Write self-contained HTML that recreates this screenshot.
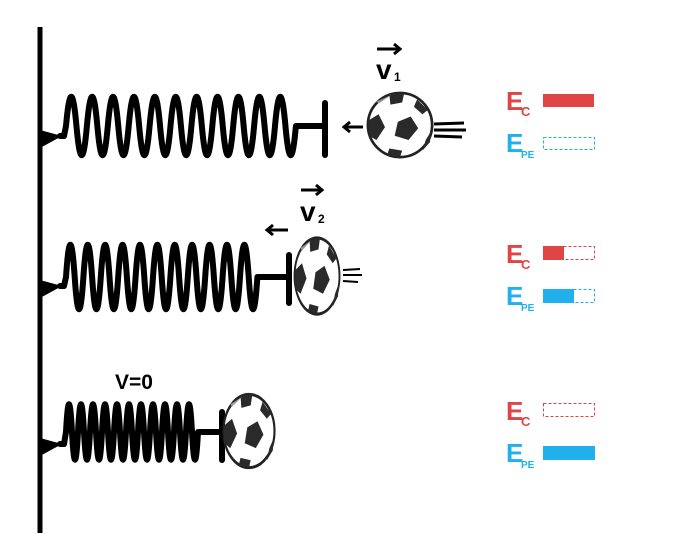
<!DOCTYPE html>
<html><head><meta charset="utf-8"><style>
body{margin:0;background:#fff}
svg{display:block}
.E{font-family:"Liberation Sans",sans-serif;font-weight:bold}
</style></head><body>
<svg width="680" height="555" viewBox="0 0 680 555">
<defs>
<g id="ball">
<circle cx="0" cy="0" r="30" fill="#fff" stroke="#222" stroke-width="2.5"/>
<polygon points="-2,-3 10,-8 17,3 8,14 -5,10" fill="#2a2a2a"/>
<path d="M-30,-4 L-20,-10 -14,2 -22,14 -29,10 Z" fill="#2a2a2a"/>
<path d="M-10,-29 L4,-30 2,-21 -9,-19 Z" fill="#2a2a2a"/>
<path d="M16,-24 L26,-14 21,-10 13,-17 Z" fill="#2a2a2a"/>
<path d="M-10,22 L2,24 0,30 -12,28 Z" fill="#2a2a2a"/>
<path d="M24,14 L29,6 28,16 21,24 Z" fill="#2a2a2a"/>
<path d="M-20,-20 L-8,-28 -22,-22 Z" fill="#999"/>
</g>
</defs>
<line x1="40" y1="27" x2="40" y2="533" stroke="#000" stroke-width="5"/>
<polygon points="40,130 62,136 40,148" fill="#000"/>
<polygon points="40,280 62,286 40,298" fill="#000"/>
<polygon points="40,438 62,444 40,456" fill="#000"/>

<g fill="none" stroke="#000" stroke-width="6" stroke-linecap="round" stroke-linejoin="round">
<path d="M60,136 L64,136 L66,126 c3.5,-39 7,-39 10.45,0 c3.5,39 7,39 10.45,0 c3.5,-39 7,-39 10.45,0 c3.5,39 7,39 10.45,0 c3.5,-39 7,-39 10.45,0 c3.5,39 7,39 10.45,0 c3.5,-39 7,-39 10.45,0 c3.5,39 7,39 10.45,0 c3.5,-39 7,-39 10.45,0 c3.5,39 7,39 10.45,0 c3.5,-39 7,-39 10.45,0 c3.5,39 7,39 10.45,0 c3.5,-39 7,-39 10.45,0 c3.5,39 7,39 10.45,0 c3.5,-39 7,-39 10.45,0 c3.5,39 7,39 10.45,0 c3.5,-39 7,-39 10.45,0 c3.5,39 7,39 10.45,0 c3.5,-39 7,-39 10.45,0 c3.5,39 7,39 10.45,0 c3.5,-39 7,-39 10.45,0 c3.5,39 7,39 10.45,0 L298,126 L325,126"/>
<line x1="325" y1="103" x2="325" y2="155"/>
<path d="M60,286 L64,286 L66,277 c2.9,-43 5.8,-43 8.7,0 c2.9,43 5.8,43 8.7,0 c2.9,-43 5.8,-43 8.7,0 c2.9,43 5.8,43 8.7,0 c2.9,-43 5.8,-43 8.7,0 c2.9,43 5.8,43 8.7,0 c2.9,-43 5.8,-43 8.7,0 c2.9,43 5.8,43 8.7,0 c2.9,-43 5.8,-43 8.7,0 c2.9,43 5.8,43 8.7,0 c2.9,-43 5.8,-43 8.7,0 c2.9,43 5.8,43 8.7,0 c2.9,-43 5.8,-43 8.7,0 c2.9,43 5.8,43 8.7,0 c2.9,-43 5.8,-43 8.7,0 c2.9,43 5.8,43 8.7,0 c2.9,-43 5.8,-43 8.7,0 c2.9,43 5.8,43 8.7,0 c2.9,-43 5.8,-43 8.7,0 c2.9,43 5.8,43 8.7,0 c2.9,-43 5.8,-43 8.7,0 c2.9,43 5.8,43 8.7,0 L262,277 L289,277"/>
<line x1="289" y1="255" x2="289" y2="303"/>
<path d="M60,444 L64,444 L66,432 c2,-37 4,-37 6,0 c2,37 4,37 6,0 c2,-37 4,-37 6,0 c2,37 4,37 6,0 c2,-37 4,-37 6,0 c2,37 4,37 6,0 c2,-37 4,-37 6,0 c2,37 4,37 6,0 c2,-37 4,-37 6,0 c2,37 4,37 6,0 c2,-37 4,-37 6,0 c2,37 4,37 6,0 c2,-37 4,-37 6,0 c2,37 4,37 6,0 c2,-37 4,-37 6,0 c2,37 4,37 6,0 c2,-37 4,-37 6,0 c2,37 4,37 6,0 c2,-37 4,-37 6,0 c2,37 4,37 6,0 c2,-37 4,-37 6,0 c2,37 4,37 6,0 L202,432 L222,432"/>
<line x1="222" y1="412" x2="222" y2="460"/>
</g>
<g stroke="#000" stroke-width="3" fill="none">
<line x1="345" y1="127" x2="363" y2="127"/><path d="M350,122 L344,127 350,132"/>
<line x1="268" y1="230" x2="288" y2="230"/><path d="M273,225 L267,230 273,235"/>
<line x1="377" y1="49" x2="399" y2="49"/><path d="M394,44 L400,49 394,54"/>
<line x1="301" y1="190" x2="321" y2="190"/><path d="M316,185 L322,190 316,195"/>
<line x1="434" y1="124" x2="464" y2="123"/><line x1="434" y1="130" x2="466" y2="130"/><line x1="434" y1="136" x2="462" y2="137"/>
<g stroke-width="2"><line x1="343" y1="270" x2="360" y2="269"/><line x1="343" y1="275" x2="362" y2="275"/><line x1="343" y1="281" x2="358" y2="282"/></g>
</g>
<use href="#ball" transform="translate(400,125) scale(1.07)"/>
<use href="#ball" transform="translate(317,276) scale(0.75,1.27)"/>
<use href="#ball" transform="translate(249,431) scale(0.85,1.22)"/>
<g class="E" fill="#000">
<text x="376" y="79" font-size="28">v</text><text x="394" y="81" font-size="12">1</text>
<text x="300" y="221" font-size="28">v</text><text x="318" y="223" font-size="12">2</text>
<text x="115" y="389" font-size="21">V=0</text>
</g>
<g class="E">
<text x="506" y="110" font-size="26" fill="#e04545">E</text><text x="521" y="116" font-size="13" fill="#e04545">C</text>
<rect x="543" y="94" width="51" height="13" fill="#e04545"/>
<text x="506" y="152" font-size="26" fill="#20b0ec">E</text><text x="521" y="158" font-size="10" fill="#20b0ec">PE</text>
<rect x="543.5" y="137.5" width="51" height="12" fill="none" stroke="#20b0ec" stroke-dasharray="3,2"/>

<text x="506" y="263" font-size="26" fill="#e04545">E</text><text x="521" y="269" font-size="13" fill="#e04545">C</text>
<rect x="543.5" y="246.5" width="51" height="13" fill="none" stroke="#e04545" stroke-dasharray="3,2"/>
<rect x="543" y="246" width="21" height="14" fill="#e04545"/>
<text x="506" y="305" font-size="26" fill="#20b0ec">E</text><text x="521" y="311" font-size="10" fill="#20b0ec">PE</text>
<rect x="543.5" y="289.5" width="51" height="13" fill="none" stroke="#20b0ec" stroke-dasharray="3,2"/>
<rect x="543" y="289" width="31" height="14" fill="#20b0ec"/>

<text x="506" y="420" font-size="26" fill="#e04545">E</text><text x="521" y="426" font-size="13" fill="#e04545">C</text>
<rect x="543.5" y="403.5" width="51" height="13" fill="none" stroke="#e04545" stroke-dasharray="3,2"/>
<text x="506" y="462" font-size="26" fill="#20b0ec">E</text><text x="521" y="468" font-size="10" fill="#20b0ec">PE</text>
<rect x="543" y="446" width="52" height="14" fill="#20b0ec"/>
</g>
</svg>
</body></html>
